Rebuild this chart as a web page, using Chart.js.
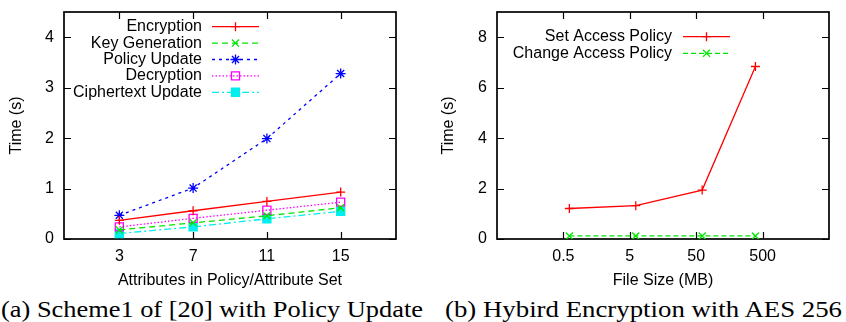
<!DOCTYPE html>
<html><head><meta charset="utf-8">
<script src="https://cdn.jsdelivr.net/npm/chart.js@4.4.0/dist/chart.umd.min.js"></script>
<style>
body{margin:0;background:#fff;width:846px;height:322px;overflow:hidden;position:relative}
.c{position:absolute;top:0}
.cap{position:absolute;font-family:"Liberation Serif","DejaVu Serif",serif;font-size:24px;line-height:24px;white-space:nowrap;transform-origin:0 0;color:#000}
</style></head><body>
<div class="c" style="left:0"><canvas id="a" width="420" height="290"></canvas></div>
<div class="c" style="left:420px"><canvas id="b" width="426" height="290"></canvas></div>
<div class="cap" id="capA" style="left:1px;top:297px">(a) Scheme1 of [20] with Policy Update</div>
<div class="cap" id="capB" style="left:445px;top:297px">(b) Hybird Encryption with AES 256</div>
<script>
// ---- data: chart (a)
const attributes = [3, 7, 11, 15];
const encryption = [0.37, 0.56, 0.745, 0.93];
const keyGeneration = [0.18, 0.32, 0.46, 0.62];
const policyUpdate = [0.47, 1.01, 1.99, 3.28];
const decryption = [0.24, 0.41, 0.57, 0.73];
const ciphertextUpdate = [0.11, 0.24, 0.40, 0.55];
const attrTicks = [3, 7, 11, 15];
const timeTicksA = [0, 1, 2, 3, 4];
// ---- data: chart (b)
const fileSizes = [0.615, 6.15, 61.5, 390];
const setAccessPolicy = [1.21, 1.32, 1.94, 6.84];
const changeAccessPolicy = [0.12, 0.12, 0.12, 0.12];
const sizeTicks = [0.5, 5, 50, 500];
const timeTicksB = [0, 2, 4, 6, 8];

const FAM = '"Liberation Sans", Arial, sans-serif';
const FONT = {family: FAM, size: 16};
const GREEN = '#00e600';

function ds(label, xs, ys, color, dash, pstyle, r, fill) {
  return {
    label, data: xs.map((x, i) => ({x, y: ys[i]})),
    borderColor: color, backgroundColor: color, borderWidth: 1.3, borderDash: dash,
    pointStyle: pstyle, pointRadius: r, pointHoverRadius: r, pointBorderWidth: 1.3,
    pointBorderColor: color, pointBackgroundColor: fill || 'rgba(0,0,0,0)',
    tension: 0, fill: false
  };
}

const framePlugin = {
  id: 'frame',
  beforeDatasetsDraw(chart) {
    const {ctx, chartArea: a, scales: {x, y}} = chart;
    ctx.save();
    ctx.strokeStyle = '#000'; ctx.setLineDash([]);
    ctx.lineWidth = 1.2;
    ctx.beginPath();
    x.ticks.forEach(t => {
      const px = Math.round(x.getPixelForValue(t.value)) + 0.5;
      ctx.moveTo(px, a.bottom); ctx.lineTo(px, a.bottom - 7);
      ctx.moveTo(px, a.top); ctx.lineTo(px, a.top + 7);
    });
    y.ticks.forEach(t => {
      const py = Math.round(y.getPixelForValue(t.value)) + 0.5;
      ctx.moveTo(a.left, py); ctx.lineTo(a.left + 7, py);
      ctx.moveTo(a.right, py); ctx.lineTo(a.right - 7, py);
    });
    ctx.stroke();
    ctx.lineWidth = 1.7;
    ctx.strokeRect(a.left, a.top, a.right - a.left, a.bottom - a.top);
    ctx.restore();
  }
};

const keyPlugin = {
  id: 'key',
  afterDraw(chart, args, opts) {
    const ctx = chart.ctx;
    ctx.save();
    ctx.font = '16px ' + FAM;
    ctx.textAlign = 'right'; ctx.textBaseline = 'middle';
    chart.data.datasets.forEach((d, i) => {
      const y = opts.y0 + i * opts.dy;
      ctx.fillStyle = '#000';
      ctx.fillText(d.label, opts.textRight, y);
      ctx.strokeStyle = d.borderColor; ctx.lineWidth = d.borderWidth;
      ctx.setLineDash(d.borderDash || []);
      ctx.beginPath(); ctx.moveTo(opts.x1, y); ctx.lineTo(opts.x2, y); ctx.stroke();
      ctx.setLineDash([]);
      ctx.fillStyle = d.pointBackgroundColor;
      ctx.lineWidth = d.pointBorderWidth;
      Chart.helpers.drawPoint(ctx, {pointStyle: d.pointStyle, radius: d.pointRadius, borderWidth: d.pointBorderWidth, rotation: 0}, (opts.x1 + opts.x2) / 2, y);
    });
    ctx.restore();
  }
};

function yScale(max, ticksArr, width, titlePad) {
  return {
    type: 'linear', min: 0, max,
    afterBuildTicks: s => { s.ticks = ticksArr.map(v => ({value: v})); },
    afterFit: s => { s.width = width; s.paddingTop = 0; s.paddingBottom = 0; },
    grid: {display: false, drawTicks: false}, border: {display: false},
    ticks: {font: FONT, color: '#000', padding: 10},
    title: {display: true, text: 'Time (s)', font: FONT, color: '#000', padding: {top: titlePad, bottom: 0}}
  };
}
function xScale(base, title) {
  return Object.assign({
    afterFit: s => { s.height = 51; s.paddingLeft = 0; s.paddingRight = 0; },
    grid: {display: false, drawTicks: false}, border: {display: false},
    ticks: {font: FONT, color: '#000', padding: 8, maxRotation: 0, autoSkip: false},
    title: {display: true, text: title, font: FONT, color: '#000', padding: {top: 0, bottom: 0}}
  }, base);
}

const common = {
  responsive: false, animation: false, devicePixelRatio: 1,
  plugins: {legend: {display: false}, tooltip: {enabled: false}}
};

new Chart(document.getElementById('a'), {
  type: 'line',
  data: {datasets: [
    ds('Encryption', attributes, encryption, '#ff0000', [], 'cross', 4.5),
    ds('Key Generation', attributes, keyGeneration, GREEN, [6, 4], 'crossRot', 5),
    ds('Policy Update', attributes, policyUpdate, '#0000ff', [3, 4], 'star', 5),
    ds('Decryption', attributes, decryption, '#ff00ff', [1.5, 2], 'rect', 5.7),
    ds('Ciphertext Update', attributes, ciphertextUpdate, '#00eeee', [7, 3, 2, 3], 'rect', 5.7, '#00eeee')
  ]},
  options: Object.assign({}, common, {
    layout: {padding: {left: 0, right: 24, top: 12, bottom: 0}},
    scales: {
      x: xScale({type: 'linear', min: 0, max: 18,
        afterBuildTicks: s => { s.ticks = attrTicks.map(v => ({value: v})); }}, 'Attributes in Policy/Attribute Set'),
      y: yScale(4.5, timeTicksA, 64, 7)
    },
    plugins: Object.assign({}, common.plugins, {key: {textRight: 202, x1: 212, x2: 259, y0: 26.7, dy: 16.4}})
  }),
  plugins: [framePlugin, keyPlugin]
});

new Chart(document.getElementById('b'), {
  type: 'line',
  data: {datasets: [
    ds('Set Access Policy', fileSizes, setAccessPolicy, '#ff0000', [], 'cross', 4.5),
    ds('Change Access Policy', fileSizes, changeAccessPolicy, GREEN, [5, 3], 'crossRot', 5)
  ]},
  options: Object.assign({}, common, {
    layout: {padding: {left: 0, right: 17, top: 12, bottom: 0}},
    scales: {
      x: xScale({type: 'logarithmic', min: 0.05, max: 5000,
        afterBuildTicks: s => { s.ticks = sizeTicks.map(v => ({value: v})); },
        ticks: {font: FONT, color: '#000', padding: 8, maxRotation: 0, autoSkip: false, callback: v => String(v)}}, 'File Size (MB)'),
      y: yScale(9, timeTicksB, 77, 19)
    },
    plugins: Object.assign({}, common.plugins, {key: {textRight: 252, x1: 263, x2: 310, y0: 36.7, dy: 16.6}})
  }),
  plugins: [framePlugin, keyPlugin]
});

for (const [id, w] of [['capA', 422], ['capB', 397]]) {
  const el = document.getElementById(id);
  const sw = el.getBoundingClientRect().width;
  el.style.transform = 'scaleX(' + (w / sw) + ')';
}
</script>
</body></html>
